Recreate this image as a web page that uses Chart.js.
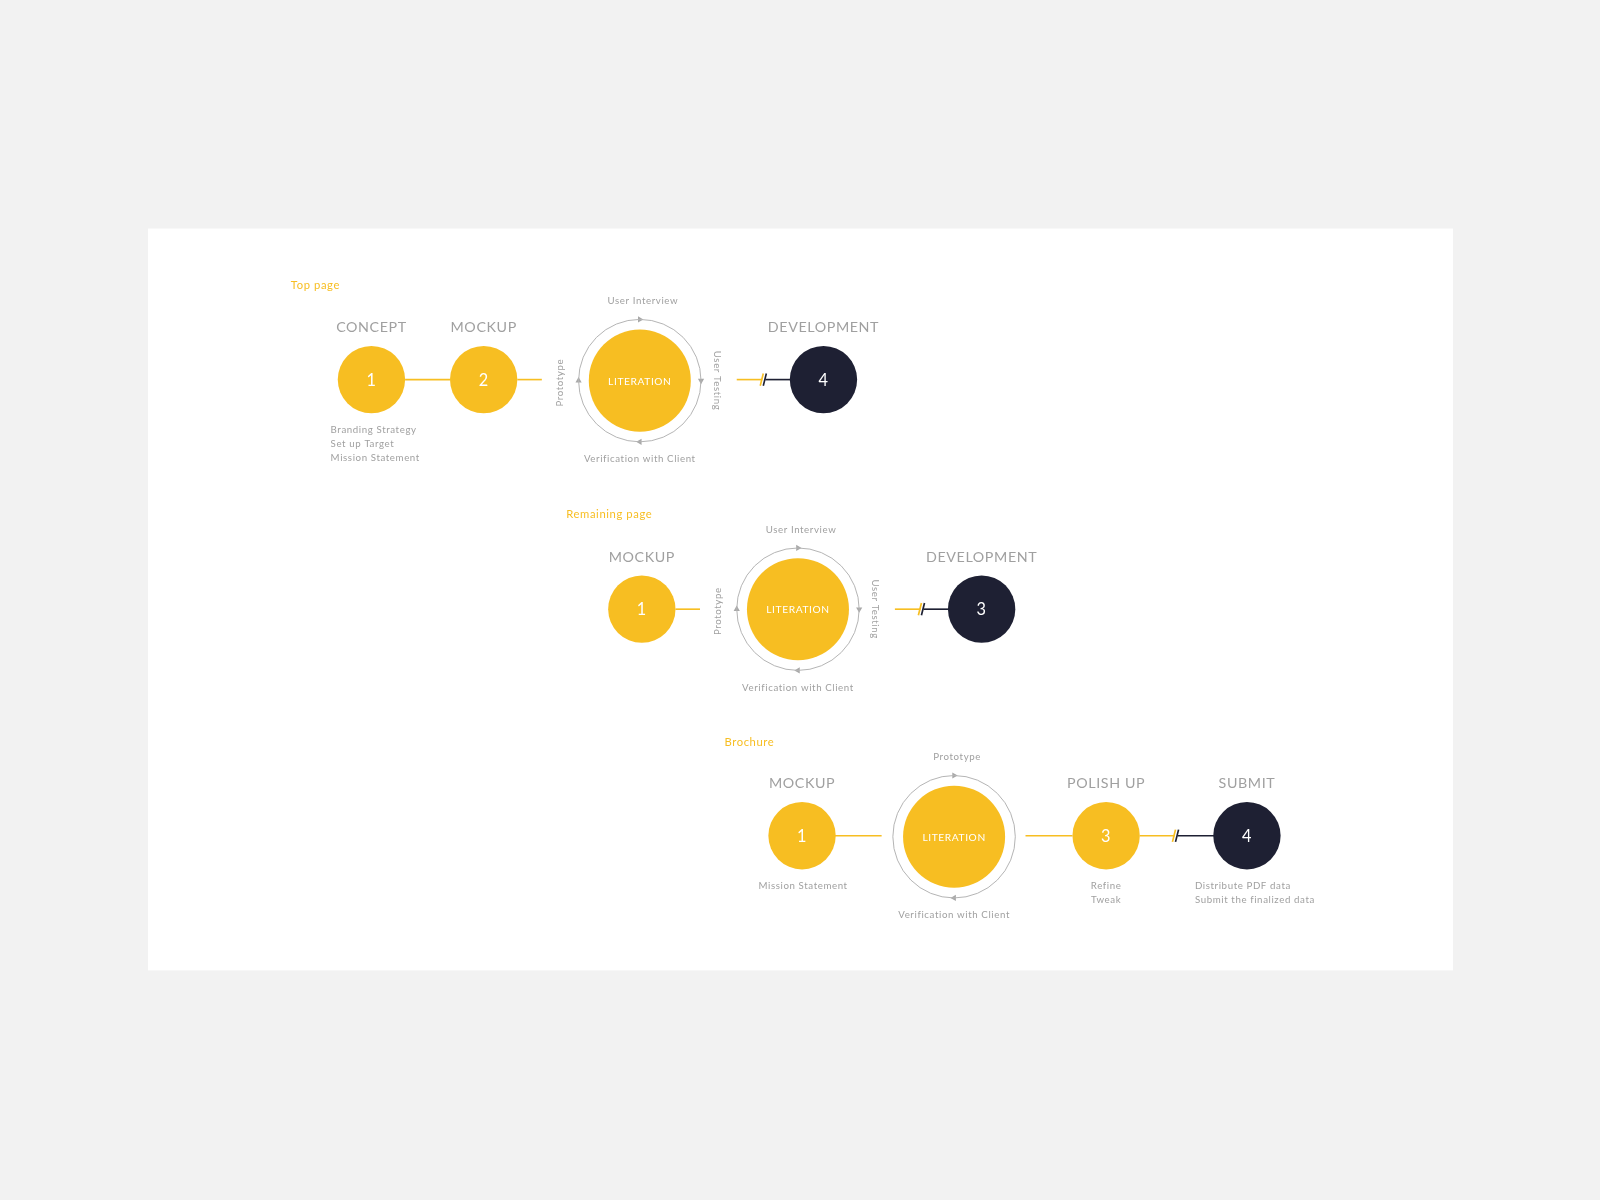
<!DOCTYPE html>
<html>
<head>
<meta charset="utf-8">
<script src="https://cdn.jsdelivr.net/npm/chart.js@4"></script>
<style>
  html, body { margin: 0; padding: 0; background: #f2f2f2; }
  #wrap { width: 1600px; height: 1200px; }
</style>
</head>
<body>
<div id="wrap"><canvas id="flow"></canvas></div>
<script>
// Stage circles (reference pixel units, 1568 x 1176 grid)
var nodeX = [364, 474, 807, 629, 962, 786, 1084, 1222];
var nodeY = [372, 372, 372, 597, 597, 819, 819, 819];
var nodeNum = ['1', '2', '4', '1', '3', '1', '3', '4'];
var nodeTitle = ['CONCEPT', 'MOCKUP', 'DEVELOPMENT', 'MOCKUP', 'DEVELOPMENT', 'MOCKUP', 'POLISH UP', 'SUBMIT'];
var nodeDark = [false, false, true, false, true, false, false, true];

// Iteration loops
var loopX = [627, 782, 935];
var loopY = [373, 597, 820];
var loopTop = ['User Interview', 'User Interview', 'Prototype'];
var loopBottom = ['Verification with Client', 'Verification with Client', 'Verification with Client'];
var loopLeft = ['Prototype', 'Prototype', ''];
var loopRight = ['User Testing', 'User Testing', ''];

// Connector segments [x1, x2, y, dark]
var segments = [
  [397, 441, 372, 0], [507, 531, 372, 0], [722, 747, 372, 0], [750, 775, 372, 1],
  [662, 686, 597, 0], [877, 902, 597, 0], [905, 930, 597, 1],
  [818, 864, 819, 0], [1005, 1051, 819, 0], [1117, 1151, 819, 0], [1154, 1190, 819, 1]
];
var breakX = [748, 903, 1152];
var breakY = [372, 597, 819];

// Section labels and notes
var sectionText = ['Top page', 'Remaining page', 'Brochure'];
var sectionX = [285, 555, 710];
var sectionY = [280, 504, 728];
var noteText = ['Branding Strategy', 'Set up Target', 'Mission Statement', 'Mission Statement', 'Refine', 'Tweak', 'Distribute PDF data', 'Submit the finalized data'];
var noteX = [324, 324, 324, 787, 1084, 1084, 1171, 1171];
var noteY = [421, 435, 449, 868, 868, 882, 868, 882];
var noteAlign = ['left', 'left', 'left', 'center', 'center', 'center', 'left', 'left'];

var YELLOW = '#f7be22';
var DARK = '#1e2033';
var GREY = '#a0a0a0';
var K = 1600 / 1568;

var datasets = [];
segments.forEach(function (s) {
  datasets.push({
    type: 'line', data: [{x: s[0], y: s[2]}, {x: s[1], y: s[2]}],
    borderColor: s[3] ? DARK : YELLOW, borderWidth: 1.6 * K, pointRadius: 0
  });
});
breakX.forEach(function (bx, i) {
  datasets.push({
    type: 'line', data: [{x: bx - 3, y: breakY[i] + 6}, {x: bx, y: breakY[i] - 6}],
    borderColor: YELLOW, borderWidth: 1.6 * K, pointRadius: 0
  });
  datasets.push({
    type: 'line', data: [{x: bx, y: breakY[i] + 6}, {x: bx + 3, y: breakY[i] - 6}],
    borderColor: DARK, borderWidth: 1.6 * K, pointRadius: 0
  });
});
// loop rings
datasets.push({
  type: 'scatter', data: loopX.map(function (x, i) { return {x: x, y: loopY[i]}; }),
  pointRadius: 60 * K, pointBackgroundColor: 'rgba(0,0,0,0)', pointBorderColor: '#b5b5b5', pointBorderWidth: 1
});
// loop arrows
var arrows = [], arrowRot = [];
loopX.forEach(function (x, i) {
  arrows.push({x: x, y: loopY[i] - 60}); arrowRot.push(90);
  arrows.push({x: x, y: loopY[i] + 60}); arrowRot.push(-90);
  if (loopLeft[i]) {
    arrows.push({x: x - 60, y: loopY[i]}); arrowRot.push(0);
    arrows.push({x: x + 60, y: loopY[i]}); arrowRot.push(180);
  }
});
datasets.push({
  type: 'scatter', data: arrows, pointStyle: 'triangle', pointRadius: 3.5 * K,
  rotation: arrowRot, pointBackgroundColor: '#a8a8a8', pointBorderWidth: 0
});
// loop cores
datasets.push({
  type: 'scatter', data: loopX.map(function (x, i) { return {x: x, y: loopY[i]}; }),
  pointRadius: 50 * K, pointBackgroundColor: YELLOW, pointBorderWidth: 0
});
// stage circles
datasets.push({
  type: 'scatter', data: nodeX.map(function (x, i) { return {x: x, y: nodeY[i]}; }),
  pointRadius: 33 * K, pointBorderWidth: 0,
  pointBackgroundColor: nodeDark.map(function (d) { return d ? DARK : YELLOW; })
});

var FONT = 'Lato, "Open Sans", sans-serif';

var textPlugin = {
  id: 'texts',
  beforeDraw: function (chart) {
    var c = chart.ctx, sx = chart.scales.x, sy = chart.scales.y;
    c.save();
    c.fillStyle = '#f2f2f2';
    c.fillRect(0, 0, chart.width, chart.height);
    c.fillStyle = '#ffffff';
    var x0 = sx.getPixelForValue(145), y0 = sy.getPixelForValue(224);
    c.fillRect(x0, y0, sx.getPixelForValue(1424) - x0, sy.getPixelForValue(951) - y0);
    c.restore();
  },
  afterDatasetsDraw: function (chart) {
    var c = chart.ctx, sx = chart.scales.x, sy = chart.scales.y;
    function put(t, x, y, size, color, align, rot) {
      c.save();
      c.translate(sx.getPixelForValue(x), sy.getPixelForValue(y));
      if (rot) c.rotate(rot * Math.PI / 180);
      c.font = (size * K) + 'px ' + FONT;
      c.fillStyle = color;
      c.textAlign = align || 'center';
      c.textBaseline = 'middle';
      c.letterSpacing = '0.6px';
      c.fillText(t, 0, 0);
      c.restore();
    }
    sectionText.forEach(function (t, i) { put(t, sectionX[i], sectionY[i], 11, YELLOW, 'left'); });
    nodeTitle.forEach(function (t, i) {
      put(t, nodeX[i], nodeY[i] - 51, 14, GREY);
      put(nodeNum[i], nodeX[i], nodeY[i] + 1, 16, '#ffffff');
    });
    loopX.forEach(function (x, i) {
      var y = loopY[i];
      put('LITERATION', x, y + 1, 10, '#ffffff');
      put(loopTop[i], x + 3, y - 78, 9.5, GREY);
      put(loopBottom[i], x, y + 77, 9.5, GREY);
      if (loopLeft[i]) put(loopLeft[i], x - 78, y + 2, 9.5, GREY, 'center', -90);
      if (loopRight[i]) put(loopRight[i], x + 76, y, 9.5, GREY, 'center', 90);
    });
    noteText.forEach(function (t, i) { put(t, noteX[i], noteY[i], 9.5, GREY, noteAlign[i]); });
  }
};

new Chart(document.getElementById('flow'), {
  type: 'scatter',
  data: { datasets: datasets },
  options: {
    responsive: true,
    maintainAspectRatio: false,
    animation: false,
    events: [],
    layout: { padding: 0, autoPadding: false },
    plugins: { legend: { display: false }, tooltip: { enabled: false } },
    scales: {
      x: { type: 'linear', min: 0, max: 1568, display: false },
      y: { type: 'linear', min: 0, max: 1176, reverse: true, display: false }
    }
  },
  plugins: [textPlugin]
});
</script>
</body>
</html>
